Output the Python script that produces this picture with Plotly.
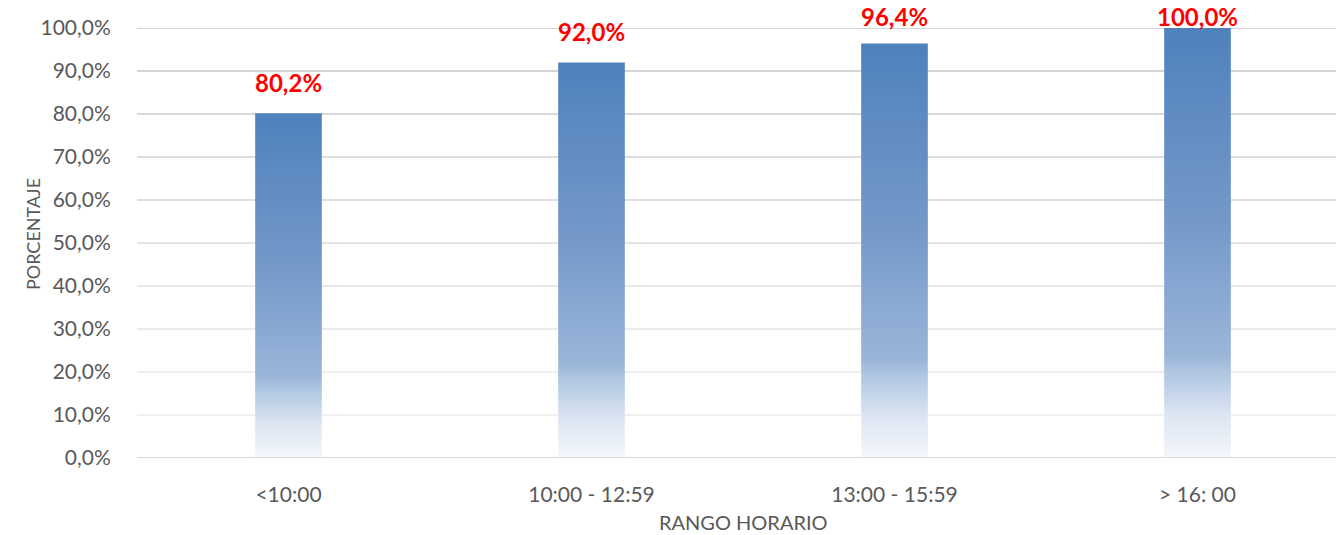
import plotly.graph_objects as go

# ---- data ----
categories = ["<10:00", "10:00 - 12:59", "13:00 - 15:59", "> 16: 00"]
values = [80.2, 92.0, 96.4, 100.0]
y_ticks = [0, 10, 20, 30, 40, 50, 60, 70, 80, 90, 100]
x_title = "RANGO HORARIO"
y_title = "PORCENTAJE"

# ---- style ----
FONT = "Lato"
TXT = "#595959"
BAR_W = 0.22
bar_scale = [
    [0.0, "#F4F7FB"],
    [0.10, "#DCE5F2"],
    [0.20, "#AFC6E2"],
    [0.24, "#9AB5D9"],
    [0.55, "#7499C9"],
    [1.0, "#4F81BD"],
]

def fmt(v, dec=1):
    return f"{v:.{dec}f}".replace(".", ",") + "%"

def grid_color(t):
    lo, hi = 0xF2, 0xC4
    c = round(lo + (hi - lo) * t / 100)
    return f"rgb({c},{c},{c})"

fig = go.Figure()

for i, (cat, v) in enumerate(zip(categories, values)):
    x0, x1 = i - BAR_W / 2, i + BAR_W / 2
    fig.add_trace(go.Scatter(
        x=[x0, x1, x1, x0, x0],
        y=[0, 0, v, v, 0],
        mode="lines",
        fill="toself",
        line=dict(width=0),
        fillgradient=dict(type="vertical", colorscale=bar_scale),
        hoverinfo="skip",
        showlegend=False,
    ))

# data labels (kept inside the chart area like the original)
for i, v in enumerate(values):
    room = (100 - v) * 4.3
    fig.add_annotation(
        x=i, y=v, xref="x", yref="y",
        text=f"<b>{fmt(v)}</b>",
        showarrow=False, yanchor="bottom",
        yshift=min(14, room - 5),
        font=dict(family=FONT, size=24, color="#FF0000"),
    )

# gridlines with fading colour
for t in y_ticks[1:]:
    fig.add_shape(type="line", xref="paper", x0=0, x1=1, yref="y", y0=t, y1=t,
                  line=dict(color=grid_color(t), width=1.7), layer="below")
fig.add_shape(type="line", xref="paper", x0=0, x1=1, yref="y", y0=0, y1=0,
              line=dict(color="#D9D9D9", width=2), layer="above")

fig.add_annotation(text=y_title, xref="paper", yref="paper", x=0, y=0.5,
                   xshift=-117, yshift=9, textangle=-90, showarrow=False,
                   font=dict(family=FONT, size=18, color=TXT))
fig.add_annotation(text=x_title, xref="x", yref="paper",
                   x=(len(categories) - 1) / 2, y=0, yshift=-64,
                   showarrow=False, yanchor="middle", borderpad=0,
                   font=dict(family=FONT, size=20, color=TXT))

fig.update_layout(
    width=1336, height=535,
    margin=dict(l=137, r=0, t=28, b=77),
    paper_bgcolor="white", plot_bgcolor="white",
    separators=",.",
    font=dict(family=FONT, color=TXT),
    xaxis=dict(
        range=[-0.5, len(categories) - 0.5 - 13 / 303],
        tickmode="array", tickvals=list(range(len(categories))), ticktext=categories,
        showgrid=False, zeroline=False, showline=False,
        ticks="outside", ticklen=18, tickcolor="rgba(0,0,0,0)",
        tickfont=dict(family=FONT, size=21, color=TXT),
        fixedrange=True,
    ),
    yaxis=dict(
        range=[0, 100],
        tickmode="array", tickvals=y_ticks,
        ticktext=[fmt(t) for t in y_ticks],
        showgrid=False, zeroline=False, showline=False,
        ticks="outside", ticklen=21, tickcolor="rgba(0,0,0,0)",
        tickfont=dict(family=FONT, size=21, color=TXT),
        fixedrange=True,
    ),
    showlegend=False,
)

fig.write_html("out.html", config={"displayModeBar": False},
               post_script="document.body.style.margin='0';")
